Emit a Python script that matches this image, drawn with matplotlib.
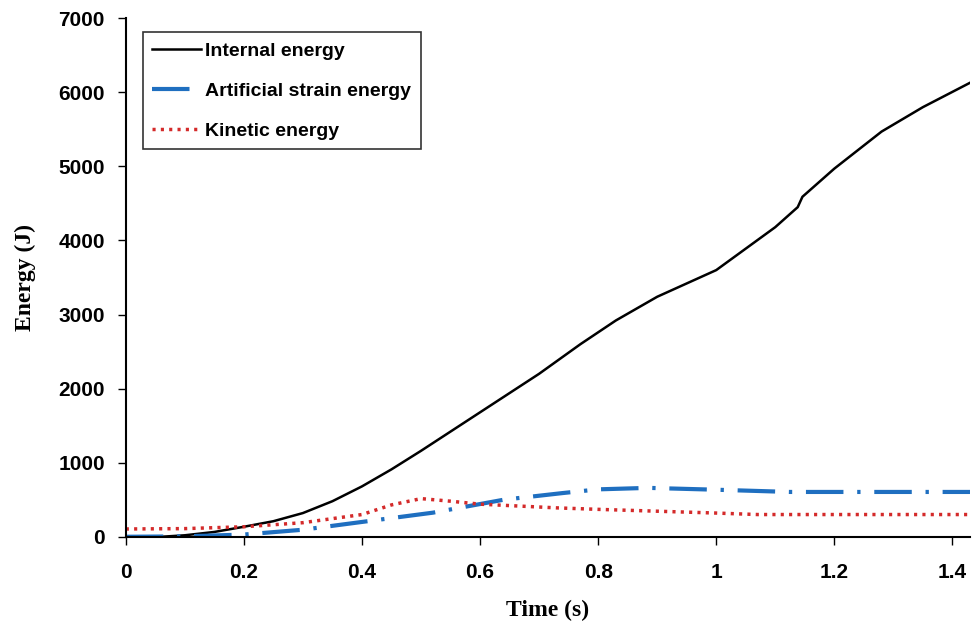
import matplotlib.pyplot as plt

# Data
t_int = [0, 0.06, 0.1, 0.15, 0.2, 0.25, 0.3, 0.35, 0.4, 0.45, 0.5, 0.6, 0.7, 0.77, 0.83,
         0.9, 1.0, 1.1, 1.138, 1.146, 1.2, 1.28, 1.35, 1.43]
e_int = [0, 0, 20, 65, 135, 210, 320, 480, 680, 910, 1160, 1680, 2200, 2600, 2920,
         3240, 3600, 4180, 4450, 4590, 4970, 5470, 5800, 6130]

t_art = [0, 0.1, 0.2, 0.3, 0.4, 0.52, 0.64, 0.74, 0.8, 0.885, 1.0, 1.125, 1.2, 1.3, 1.43]
e_art = [0, 5, 30, 95, 200, 325, 500, 590, 640, 660, 635, 605, 605, 605, 605]

t_kin = [0, 0.1, 0.2, 0.3, 0.4, 0.45, 0.5, 0.55, 0.6, 0.73, 0.8, 0.9, 1.0, 1.07, 1.2, 1.3, 1.43]
e_kin = [105, 110, 135, 190, 300, 430, 515, 480, 440, 390, 370, 345, 320, 300, 300, 300, 300]

xticks = [0, 0.2, 0.4, 0.6, 0.8, 1.0, 1.2, 1.4]
xtick_labels = ['0', '0.2', '0.4', '0.6', '0.8', '1', '1.2', '1.4']
yticks = [0, 1000, 2000, 3000, 4000, 5000, 6000, 7000]

fig = plt.figure(figsize=(9.75, 6.3), dpi=100)
ax = fig.add_axes([0.129, 0.148, 0.866, 0.823])

ax.plot(t_int, e_int, color='black', lw=1.8, label='Internal energy')
ax.plot(t_art, e_art, color='#1f6fc0', lw=3, dashes=(9, 3.3, 0.8, 3.3), label='Artificial strain energy')
ax.plot(t_kin, e_kin, color='#d42a2a', lw=2.5, linestyle=(0, (0.9, 1.5)), label='Kinetic energy')

ax.set_xlim(0, 1.43)
ax.set_ylim(0, 7000)
ax.set_xticks(xticks)
ax.set_xticklabels(xtick_labels)
ax.set_yticks(yticks)
for lab in ax.get_xticklabels() + ax.get_yticklabels():
    lab.set_fontfamily('Liberation Sans')
    lab.set_fontweight('bold')
    lab.set_fontsize(15)

ax.spines['top'].set_visible(False)
ax.spines['right'].set_visible(False)
ax.spines['left'].set_linewidth(1.5)
ax.spines['bottom'].set_linewidth(1.5)
ax.tick_params(direction='out', length=6, width=1)
ax.tick_params(axis='x', pad=13)
ax.tick_params(axis='y', pad=9)

ax.set_xlabel('Time (s)', fontfamily='Liberation Serif', fontweight='bold', fontsize=17, labelpad=13)
ax.set_ylabel('Energy (J)', fontfamily='Liberation Serif', fontweight='bold', fontsize=17, labelpad=16)

leg = ax.legend(loc='upper left', bbox_to_anchor=(0.02, 0.973), borderaxespad=0,
                fancybox=False, edgecolor='black',
                handlelength=2.5, handletextpad=0.2, borderpad=0.5, labelspacing=1.15,
                prop={'family': 'Liberation Sans', 'weight': 'bold', 'size': 14})
leg.get_frame().set_linewidth(1.2)

plt.savefig('out.png', dpi=100)
